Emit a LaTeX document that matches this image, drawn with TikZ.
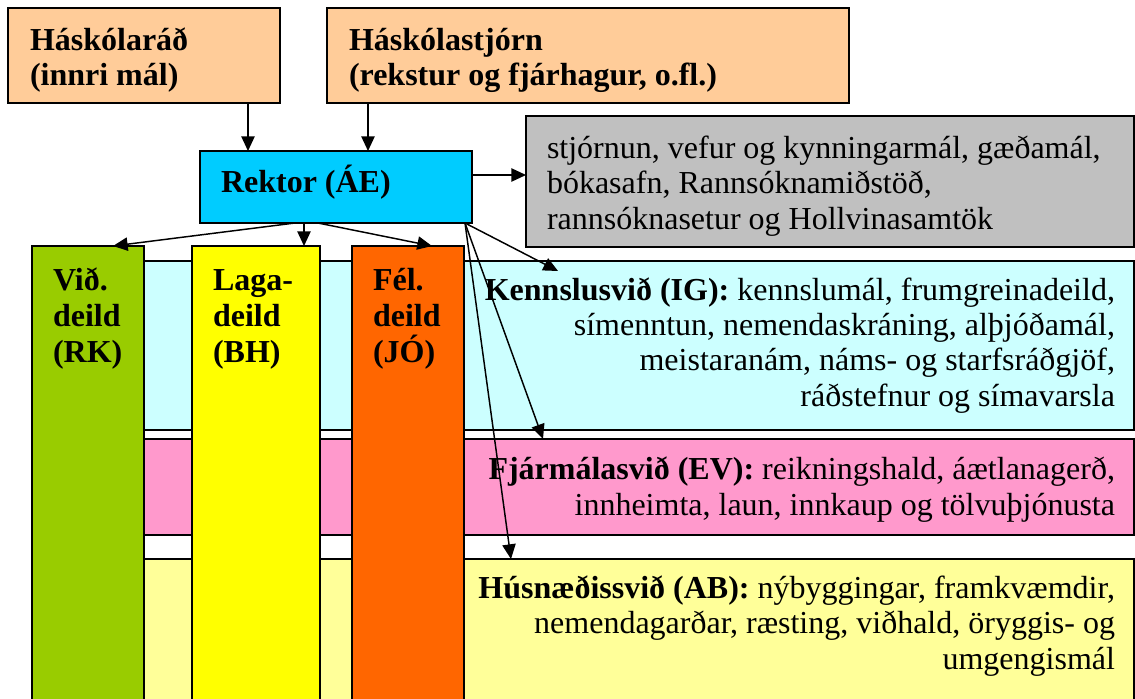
\documentclass[tikz,border=0pt]{standalone}
\usepackage{fontspec}
\setmainfont{Liberation Serif}
\usetikzlibrary{arrows.meta}

\definecolor{peach}{HTML}{FFCC99}
\definecolor{rektorblue}{HTML}{00CCFF}
\definecolor{stjorngrey}{HTML}{C0C0C0}
\definecolor{kennslucyan}{HTML}{CCFFFF}
\definecolor{fjarpink}{HTML}{FF99CC}
\definecolor{husnyellow}{HTML}{FFFF99}
\definecolor{vidgreen}{HTML}{99CC00}
\definecolor{lagayellow}{HTML}{FFFF00}
\definecolor{felorange}{HTML}{FF6600}

\begin{document}
\begin{tikzpicture}[x=0.75pt,y=-0.75pt,>={Triangle[length=11pt,width=10pt]},line width=1.1pt]
\tikzset{box/.style = {shape=rectangle, draw, anchor=north west, inner sep=0pt, outer sep=0pt, line width=1.5pt},
  lbl/.style = {inner sep=0pt, outer sep=0pt, font=\fontsize{24}{26.5}\selectfont},
  lblb/.style = {lbl, font=\fontsize{24}{27}\selectfont\bfseries}}

\useasboundingbox (0,0) rectangle (1135,699);
\clip (0,0) rectangle (1135,699);

%bands
\node[box, fill=kennslucyan, minimum width=826.5pt, minimum height=126.75pt] (kennsla) at (32,261) {};
\node[box, fill=fjarpink, minimum width=826.5pt, minimum height=72pt] (fjarmal) at (32,439) {};
\node[box, fill=husnyellow, minimum width=826.5pt, minimum height=150pt] (husn) at (32,559) {};

%deildir
\node[box, fill=vidgreen, minimum width=84pt, minimum height=375pt] (vid) at (32,246) {};
\node[box, fill=lagayellow, minimum width=96pt, minimum height=375pt] (laga) at (192,246) {};
\node[box, fill=felorange, minimum width=84pt, minimum height=375pt] (fel) at (352,246) {};

%top boxes
\node[box, fill=peach, minimum width=204pt, minimum height=71.25pt] (hrad) at (8,8) {};
\node[box, fill=peach, minimum width=391.5pt, minimum height=71.25pt] (hstj) at (327,8) {};
\node[box, fill=rektorblue, minimum width=204pt, minimum height=54pt] (rektor) at (200,151) {};
\node[box, fill=stjorngrey, minimum width=456pt, minimum height=98.25pt] (stjorn) at (526,116) {};

%arrows
\draw[->] ([shift={(240,0)}]hrad.south west) -- ([shift={(48,0)}]rektor.north west);
\draw[->] ([shift={(41,0)}]hstj.south west) -- ([shift={(168,0)}]rektor.north west);
\draw[->] ([shift={(0,24)}]rektor.north east) -- ([shift={(0,59)}]stjorn.north west);
\draw[->] ([shift={(95,0)}]rektor.south west) -- ([shift={(81,0)}]vid.north west);
\draw[->] ([shift={(104,0)}]rektor.south west) -- ([shift={(112,0)}]laga.north west);
\draw[->] ([shift={(118,0)}]rektor.south west) -- ([shift={(80,0)}]fel.north west);
\draw[->] ([shift={(-7,0)}]rektor.south east) -- ([shift={(526,10)}]kennsla.north west);
\draw[->] ([shift={(-7,0)}]rektor.south east) -- ([shift={(511,0)}]fjarmal.north west);
\draw[->] ([shift={(-7,0)}]rektor.south east) -- ([shift={(479,0)}]husn.north west);

%texts (base = last line)
\node[lblb, anchor=base west, align=left] (hrad-t) at ([shift={(22,78)}]hrad.north west) {Háskólaráð\\(innri mál)};
\node[lblb, anchor=base west, align=left] (hstj-t) at ([shift={(22,78)}]hstj.north west) {Háskólastjórn\\(rekstur og fjárhagur, o.fl.)};
\node[lblb, anchor=base west] (rektor-t) at ([shift={(21,41)}]rektor.north west) {Rektor (ÁE)};
\node[lbl, anchor=base west, align=left] (stjorn-t) at ([shift={(21,113)}]stjorn.north west)
  {stjórnun, vefur og kynningarmál, gæðamál,\\bókasafn, Rannsóknamiðstöð,\\rannsóknasetur og Hollvinasamtök};
\node[lblb, anchor=base west, align=left] (vid-t) at ([shift={(21,116)}]vid.north west) {Við.\\deild\\(RK)};
\node[lblb, anchor=base west, align=left] (laga-t) at ([shift={(21,116)}]laga.north west) {Laga-\\deild\\(BH)};
\node[lblb, anchor=base west, align=left] (fel-t) at ([shift={(21,116)}]fel.north west) {Fél.\\deild\\(JÓ)};
\node[lbl, anchor=base east, align=right] (kennsla-t) at ([shift={(-19,145)}]kennsla.north east)
  {\textbf{Kennslusvið (IG):} kennslumál, frumgreinadeild,\\símenntun, nemendaskráning, alþjóðamál,\\meistaranám, náms- og starfsráðgjöf,\\ráðstefnur og símavarsla};
\node[lbl, anchor=base east, align=right] (fjarmal-t) at ([shift={(-19,76)}]fjarmal.north east)
  {\textbf{Fjármálasvið (EV):} reikningshald, áætlanagerð,\\innheimta, laun, innkaup og tölvuþjónusta};
\node[lbl, anchor=base east, align=right] (husn-t) at ([shift={(-19,110)}]husn.north east)
  {\textbf{Húsnæðissvið (AB):} nýbyggingar, framkvæmdir,\\nemendagarðar, ræsting, viðhald, öryggis- og\\umgengismál};

\end{tikzpicture}
\end{document}
